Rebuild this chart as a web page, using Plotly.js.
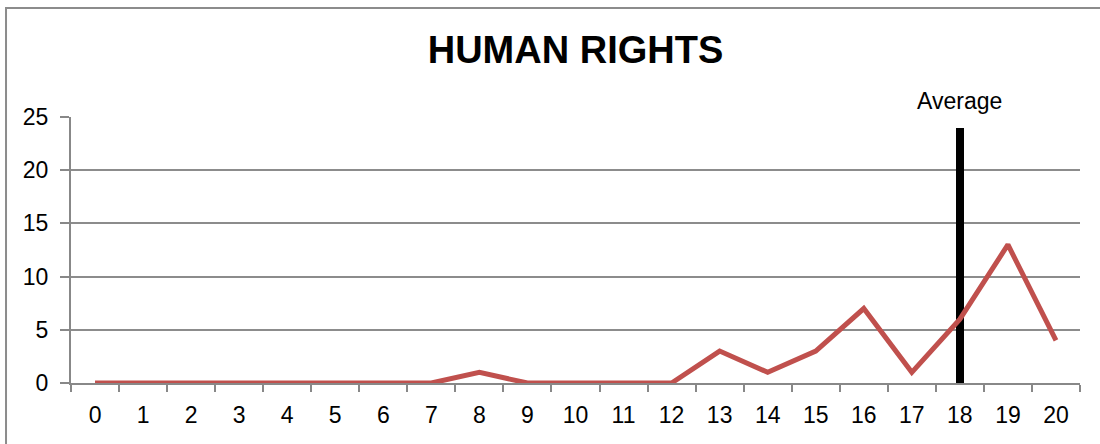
<!DOCTYPE html>
<html>
<head>
<meta charset="utf-8">
<script src="https://cdn.plot.ly/plotly-3.0.1.min.js"></script>
<style>html,body{margin:0;padding:0;background:#fff;}#chart{width:1100px;height:444px;}</style>
</head>
<body>
<div id="chart"></div>
<script>
var categories = ['0','1','2','3','4','5','6','7','8','9','10','11','12','13','14','15','16','17','18','19','20'];
var humanRights = [0,0,0,0,0,0,0,0,1,0,0,0,0,3,1,3,7,1,6,13,4];
var averageCategory = ['18'];
var averageValue = [24];
var yTicks = [0,5,10,15,20,25];

var FONT = '"Liberation Sans Narrow", "Arial Narrow", "Liberation Sans", Arial, sans-serif';

var traces = [
  {
    type: 'scatter', mode: 'lines', x: categories, y: humanRights,
    line: {color: '#C0504D', width: 5}, hoverinfo: 'x+y', showlegend: false
  },
  {
    type: 'bar', x: averageCategory, y: averageValue, width: 0.18,
    marker: {color: '#000000', line: {width: 0}}, showlegend: false,
    textposition: 'none'
  }
];

var layout = {
  width: 1100, height: 444,
  margin: {l: 71, r: 20, t: 117, b: 61},
  paper_bgcolor: '#ffffff', plot_bgcolor: '#ffffff',
  font: {family: FONT, size: 23, color: '#000'},
  title: {text: '<b>HUMAN RIGHTS</b>', font: {family: FONT, size: 38, color: '#000'},
          x: 0.5, xanchor: 'center', xref: 'paper', y: 0.888, yref: 'container', yanchor: 'middle'},
  showlegend: false,
  xaxis: {
    type: 'category', categoryorder: 'array', categoryarray: categories,
    range: [-0.5, 20.5], showgrid: false, zeroline: false,
    showline: true, linecolor: '#888', linewidth: 2,
    ticks: 'outside', tickson: 'boundaries', ticklen: 7, tickcolor: '#888', tickwidth: 2,
    tickfont: {family: FONT, size: 23, color: '#000'}, ticklabelstandoff: 10
  },
  yaxis: {
    range: [0, 25], tickvals: yTicks, showgrid: true, gridcolor: '#8c8c8c', gridwidth: 2,
    zeroline: false, showline: true, linecolor: '#888', linewidth: 2,
    ticks: 'outside', ticklen: 9, tickcolor: '#888', tickwidth: 2,
    tickfont: {family: FONT, size: 23, color: '#000'}, ticklabelstandoff: 7
  },
  bargap: 0,
  annotations: [
    {x: averageCategory[0], y: 25, xref: 'x', yref: 'y', text: 'Average', showarrow: false,
     yanchor: 'bottom', yshift: 1, font: {family: FONT, size: 23, color: '#000'}}
  ],
  shapes: [
    {type: 'rect', xref: 'paper', yref: 'paper', x0: -0.0644, x1: 1.1, y0: -0.5, y1: 1.4098,
     line: {color: '#8c8c8c', width: 2}, fillcolor: 'rgba(0,0,0,0)', layer: 'below'}
  ]
};

Plotly.newPlot('chart', traces, layout, {displayModeBar: false, staticPlot: true});
</script>
</body>
</html>
